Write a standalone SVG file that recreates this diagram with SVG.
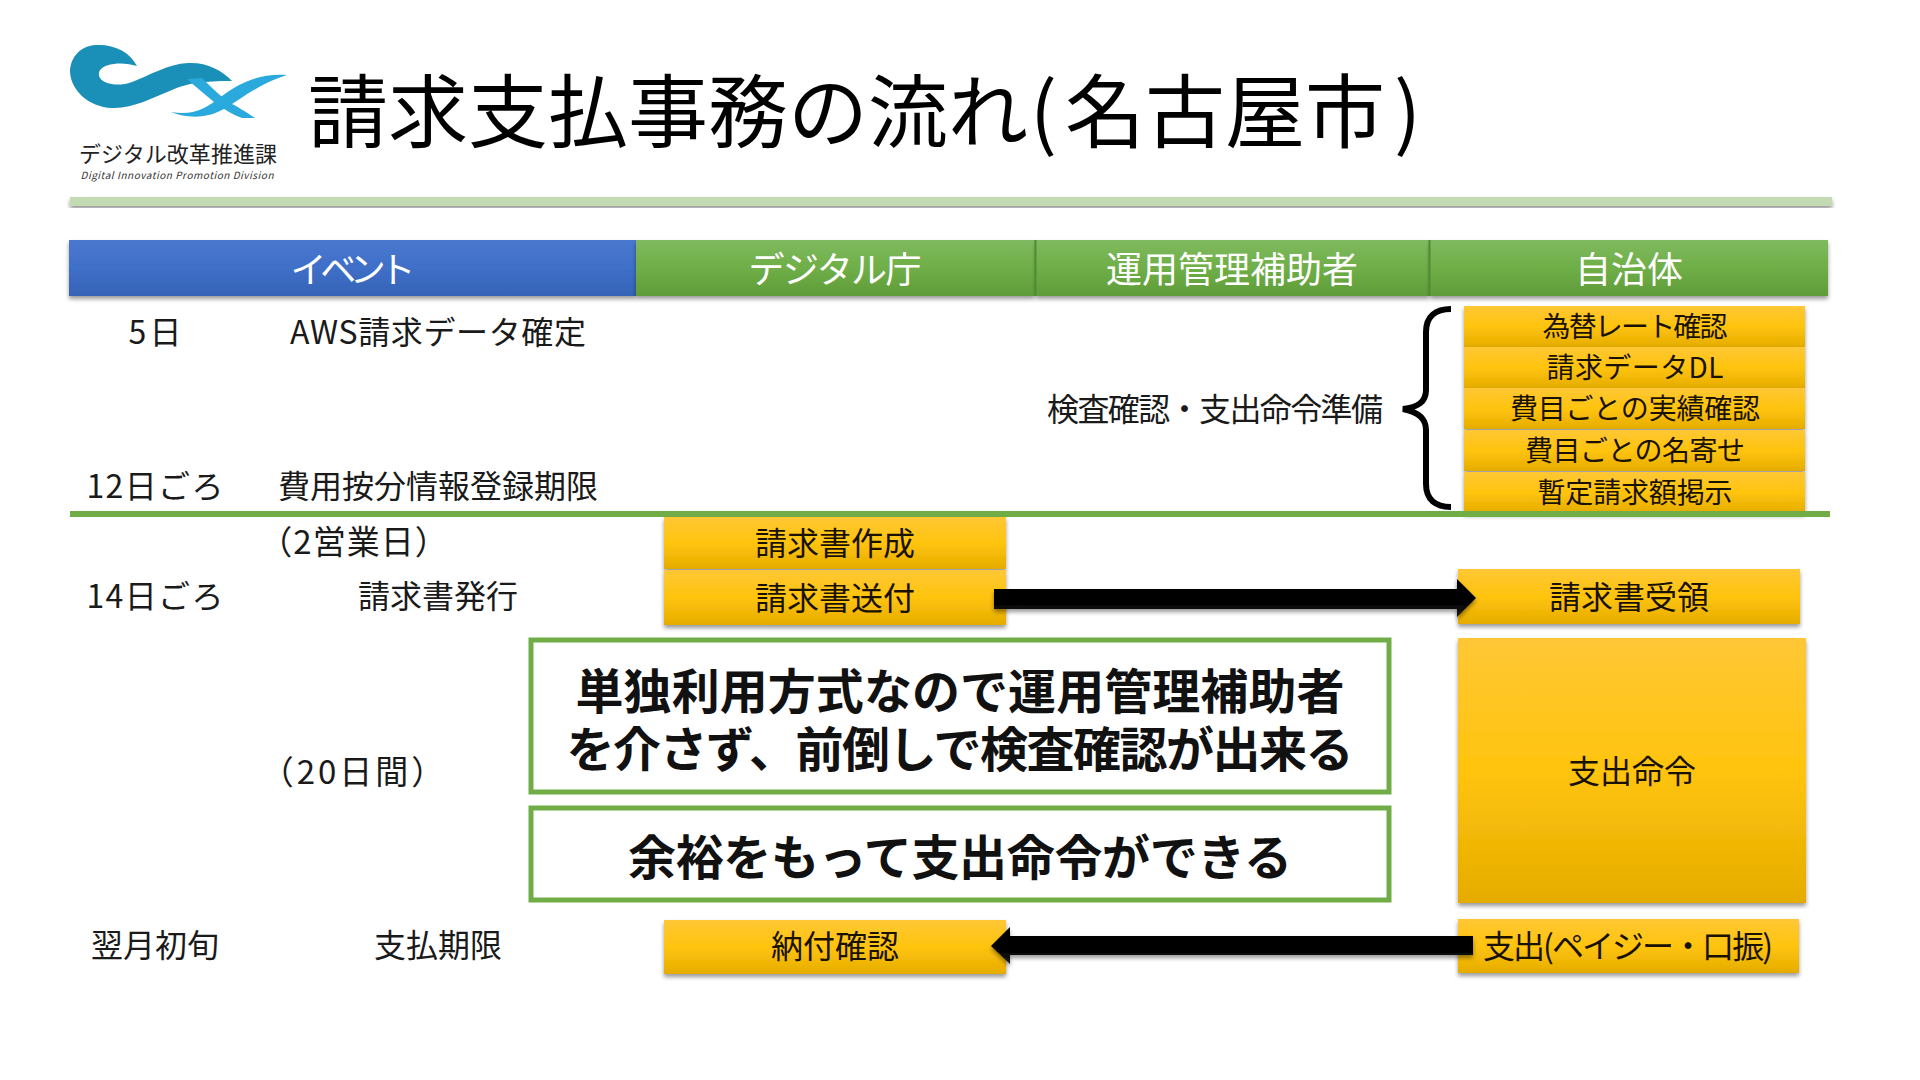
<svg xmlns="http://www.w3.org/2000/svg" width="1920" height="1080" viewBox="0 0 1920 1080">
<style>
text{font-family:"Noto Sans CJK JP","Noto Sans",sans-serif;fill:#000;text-anchor:middle}
.h{font-size:36px;fill:#fff}
.t{font-size:32px;fill:#1a1a1a}
.b{font-size:28px;fill:#1a1200}
.m{font-size:32px;fill:#1a1200}
.c{font-size:48px;font-weight:700;fill:#111}
.box{fill:url(#gold);filter:url(#sh)}
.note{fill:#fff;stroke:#70ad47;stroke-width:5}
</style>
<defs>
<linearGradient id="gold" x1="0" y1="0" x2="0" y2="1"><stop offset="0" stop-color="#ffc736"/><stop offset=".5" stop-color="#ffc40d"/><stop offset="1" stop-color="#e5ac00"/></linearGradient>
<linearGradient id="green" x1="0" y1="0" x2="0" y2="1"><stop offset="0" stop-color="#7fba60"/><stop offset=".5" stop-color="#6fae47"/><stop offset="1" stop-color="#5f9c39"/></linearGradient>
<linearGradient id="blue" x1="0" y1="0" x2="0" y2="1"><stop offset="0" stop-color="#4a78cf"/><stop offset=".5" stop-color="#3f6fc8"/><stop offset="1" stop-color="#3563b5"/></linearGradient>
<linearGradient id="ink" x1="0" y1="0" x2="0" y2="1"><stop offset="0" stop-color="#000"/><stop offset=".6" stop-color="#000"/><stop offset="1" stop-color="#1c1c1c"/></linearGradient>
<filter id="sh" x="-5%" y="-10%" width="110%" height="130%"><feDropShadow dx="0" dy="3" stdDeviation="2" flood-color="#000" flood-opacity=".4"/></filter>
</defs>
<rect width="1920" height="1080" fill="#fff"/>
<g id="logo">
<path d="M137 66C130 52 114 44 96 45C78 46 70 60 70 72C71 90 88 107 112 108C132 109 152 98 172 90C188 83 203 81 232 81C222 70 206 62 188 63C168 64 148 76 132 82C118 87 104 84 100 78C96 70 104 65 114 64C122 63 130 64 137 66z" fill="#1a8fb8"/>
<path d="M287 75C262 73 240 82 222 96C206 109 192 116 171 112C186 118 205 119 222 110C240 100 258 84 287 75z" fill="#29a9dc"/>
<path d="M187 79L202 78C212 88 222 98 232 104C240 108 249 114 255 118L242 118C224 112 204 94 187 79z" fill="#29a9dc"/>
<text x="178" y="162" font-size="22" textLength="198" style="fill:#222">デジタル改革推進課</text>
<text x="177" y="179" font-size="10" textLength="193" style="fill:#333;font-style:italic">Digital Innovation Promotion Division</text>
</g>
<text id="title" y="141" font-size="80" style="text-anchor:start"><tspan x="308">請求支払事務の流れ</tspan><tspan x="1030">(</tspan><tspan x="1065">名古屋市</tspan><tspan x="1394">)</tspan></text>
<rect id="rule-top" x="70" y="197" width="1762" height="9" fill="#c4dab2" filter="url(#sh)"/>
<g id="header">
<rect x="69" y="240" width="567" height="56" fill="url(#blue)" filter="url(#sh)"/>
<rect x="636" y="240" width="399" height="56" fill="url(#green)" filter="url(#sh)"/>
<rect x="1036" y="240" width="393" height="56" fill="url(#green)" filter="url(#sh)"/>
<rect x="1430" y="240" width="398" height="56" fill="url(#green)" filter="url(#sh)"/>
<path d="M1035.500 240V296M1429.500 240V296" stroke="#528a35" stroke-width="2" fill="none"/>
<text class="h" x="353" y="283" textLength="125">イベント</text>
<text class="h" x="835" y="283" textLength="173">デジタル庁</text>
<text class="h" x="1232" y="283">運用管理補助者</text>
<text class="h" x="1629" y="283">自治体</text>
</g>
<g id="events">
<text class="t" x="155" y="344" textLength="53">5日</text>
<text class="t" x="438" y="344" textLength="296">AWS請求データ確定</text>
<text class="t" x="155" y="498" textLength="137">12日ごろ</text>
<text class="t" x="438" y="498">費用按分情報登録期限</text>
<text class="t" x="354" y="554" style="font-size:33px;letter-spacing:1px">（2営業日）</text>
<text class="t" x="155" y="608" textLength="137">14日ごろ</text>
<text class="t" x="438" y="608">請求書発行</text>
<text class="t" x="354" y="784" style="font-size:33px;letter-spacing:3px">（20日間）</text>
<text class="t" x="155" y="957">翌月初旬</text>
<text class="t" x="438" y="957">支払期限</text>
<text class="t" x="1215" y="421" textLength="336">検査確認・支出命令準備</text>
</g>
<g id="local-tasks">
<g id="n1"><rect class="box" x="1464" y="306" width="341" height="41"/><text class="b" x="1635" y="337" textLength="185">為替レート確認</text></g>
<g id="n2"><rect class="box" x="1464" y="347" width="341" height="41"/><text class="b" x="1635" y="378" textLength="177">請求データDL</text></g>
<g id="n3"><rect class="box" x="1464" y="388" width="341" height="41"/><text class="b" x="1635" y="419" textLength="250">費目ごとの実績確認</text></g>
<g id="n4"><rect class="box" x="1464" y="430" width="341" height="41"/><text class="b" x="1635" y="461" textLength="220">費目ごとの名寄せ</text></g>
<g id="n5"><rect class="box" x="1464" y="472" width="341" height="41"/><text class="b" x="1635" y="503" textLength="195">暫定請求額掲示</text></g>
</g>
<rect id="rule-mid" x="70" y="511" width="1760" height="6" fill="#70ad47"/>
<g id="n6"><rect class="box" x="664" y="517" width="342" height="52"/><text class="m" x="835" y="555">請求書作成</text></g>
<g id="n7"><rect class="box" x="664" y="570" width="342" height="55"/><text class="m" x="835" y="610">請求書送付</text></g>
<g id="n8"><rect class="box" x="1458" y="569" width="342" height="55"/><text class="m" x="1629" y="609">請求書受領</text></g>
<g id="n9"><rect class="box" x="1458" y="638" width="348" height="265"/><text class="m" x="1632" y="783">支出命令</text></g>
<g id="n10"><rect class="box" x="664" y="920" width="342" height="54"/><text class="m" x="835" y="958">納付確認</text></g>
<g id="n11"><rect class="box" x="1458" y="919" width="341" height="54"/><text class="m" x="1628" y="958" textLength="290">支出(ペイジー・口振)</text></g>
<g id="note1"><rect class="note" x="531" y="640" width="858" height="152"/><text class="c"><tspan x="960" y="709" textLength="769">単独利用方式なので運用管理補助者</tspan><tspan x="960" y="767" textLength="787">を介さず、前倒しで検査確認が出来る</tspan></text></g>
<g id="note2"><rect class="note" x="531" y="808" width="858" height="92"/><text class="c" x="960" y="875" textLength="664">余裕をもって支出命令ができる</text></g>
<g id="connectors">
<path d="M994 589H1457V579L1476 598L1457 617V609H994z" fill="url(#ink)" filter="url(#sh)"/>
<path d="M1473 936H1010V927L991 946L1010 964V955H1473z" fill="url(#ink)" filter="url(#sh)"/>
<path d="M1451 309C1436 309 1426 316 1426 332V390C1426 402 1418 407 1403 409C1418 412 1426 418 1426 430V484C1426 500 1436 507 1451 507" stroke="#000" stroke-width="6" fill="none"/>
</g>
</svg>
